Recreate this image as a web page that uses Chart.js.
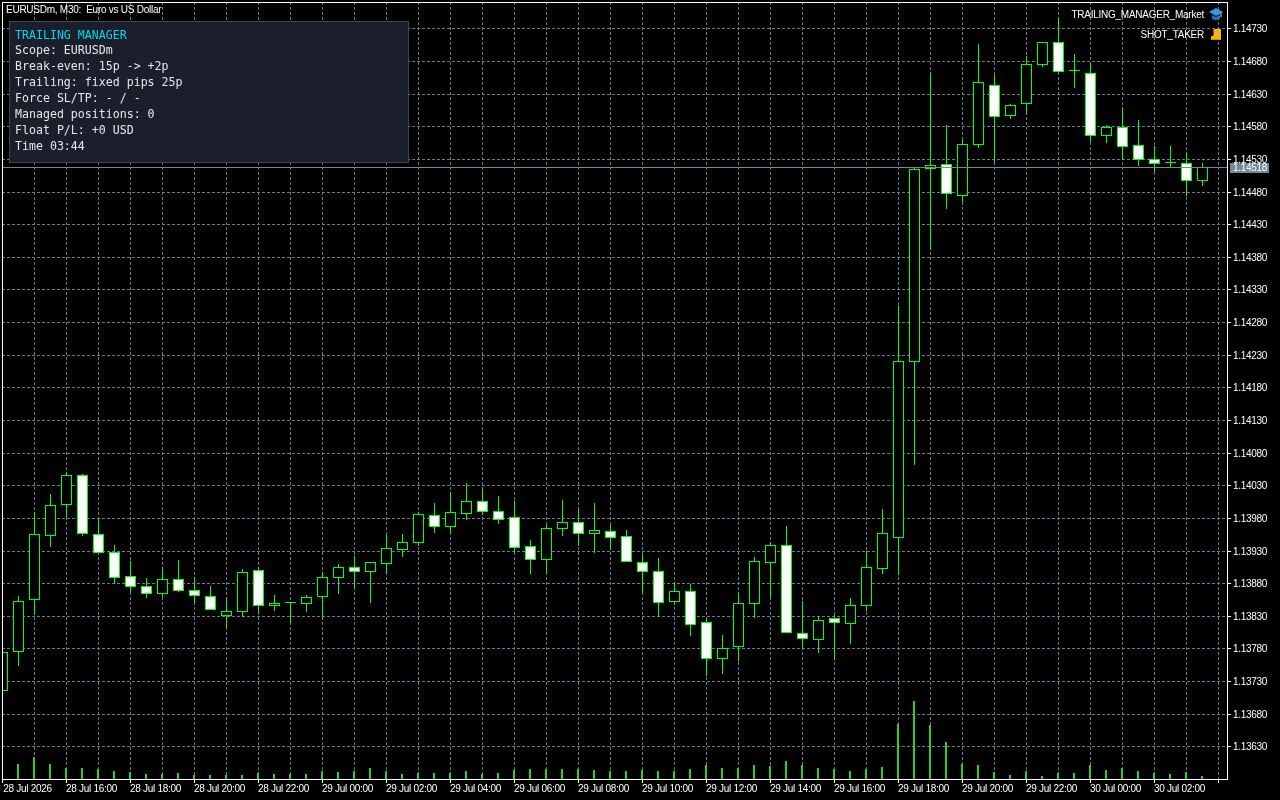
<!DOCTYPE html>
<html>
<head>
<meta charset="utf-8">
<title>EURUSDm, M30</title>
<script src="https://cdn.jsdelivr.net/npm/chart.js@4"></script>
<style>
  html, body { margin: 0; padding: 0; background: #000; width: 1280px; height: 800px; overflow: hidden; }
  #wrap { position: relative; width: 1280px; height: 800px; }
  canvas { display: block; position: absolute; left: 0; top: 0; }
  .lab { position: absolute; color: #fff; font: 10px "Liberation Sans", sans-serif; white-space: pre; line-height: 12px; letter-spacing: -0.25px; }
  #panel { position: absolute; left: 9px; top: 21px; width: 398px; height: 140px; background: #1a1f2b; border: 1px solid #3a4556; }
  #panel div { position: absolute; left: 5px; height: 16px; line-height: 16px; font: 11.6px/16px "DejaVu Sans Mono", monospace; color: #e2e7ee; white-space: pre; }
  svg { position: absolute; }
</style>
</head>
<body>
<div id="wrap">
  <canvas id="c" width="1280" height="800"></canvas>
  <div class="lab" id="title" style="left:6px;top:4px;"></div>
  <div id="panel"></div>
  <div class="lab" id="o1" style="right:76px;top:9px;"></div>
  <div class="lab" id="o2" style="right:76px;top:29px;"></div>
  <svg style="left:1209px;top:8px" width="14" height="13" viewBox="0 0 14 13">
    <path d="M0 4 L7 0 L14 4 L7 8 Z" fill="#2f9be8"/>
    <path d="M3 7 L7 9 L11 7 L11 11 Q7 13 3 11 Z" fill="#1c74c4"/>
    <path d="M12 4.5 L12 9" stroke="#bfe3ff" stroke-width="1"/>
  </svg>
  <svg style="left:1211px;top:29px" width="11" height="12" viewBox="0 0 11 12">
    <path d="M2.5 0 L10 0 L10 11 L0 11 L0 7.5 L2.5 6.5 Z" fill="#f6b40e"/>
    <path d="M0.5 10 L9.5 10 L9.5 11 L0.5 11 Z" fill="#c98a00"/>
  </svg>
</div>
<script>
const symbolTitle = "EURUSDm, M30:  Euro vs US Dollar";
const objectLabels = ["TRAILING_MANAGER_Market", "SHOT_TAKER"];
const panelLines = [
  "TRAILING MANAGER",
  "Scope: EURUSDm",
  "Break-even: 15p -> +2p",
  "Trailing: fixed pips 25p",
  "Force SL/TP: - / -",
  "Managed positions: 0",
  "Float P/L: +0 USD",
  "Time 03:44"
];
const bidPrice = 1.14518;

const opens = [1.13715,1.13775,1.13854,1.13952,1.14000,1.14046,1.13955,1.13928,1.13891,1.13876,
1.13863,1.13886,1.13870,1.13860,1.13830,1.13836,1.13900,1.13845,1.13850,1.13848,
1.13859,1.13888,1.13905,1.13897,1.13909,1.13931,1.13942,1.13984,1.13966,1.13986,
1.14006,1.13991,1.13981,1.13937,1.13915,1.13963,1.13974,1.13955,1.13960,1.13952,
1.13912,1.13899,1.13851,1.13868,1.13821,1.13764,1.13782,1.13848,1.13911,1.13938,
1.13804,1.13793,1.13827,1.13817,1.13845,1.13902,1.13949,1.14219,1.14514,1.14522,
1.14473,1.14551,1.14643,1.14596,1.14614,1.14674,1.14709,1.14665,1.14662,1.14565,
1.14579,1.14551,1.14530,1.14524,1.14524,1.14496];
const highs = [1.13775,1.13860,1.13989,1.14017,1.14050,1.14047,1.13978,1.13938,1.13914,1.13888,
1.13905,1.13915,1.13889,1.13876,1.13857,1.13902,1.13905,1.13862,1.13851,1.13862,
1.13897,1.13909,1.13922,1.13912,1.13954,1.13955,1.13989,1.14003,1.14020,1.14033,
1.14026,1.14014,1.14006,1.13946,1.13969,1.14007,1.13994,1.14003,1.13969,1.13961,
1.13925,1.13919,1.13882,1.13879,1.13827,1.13801,1.13866,1.13920,1.13943,1.13968,
1.13853,1.13830,1.13831,1.13857,1.13929,1.13994,1.14305,1.14516,1.14662,1.14582,
1.14559,1.14706,1.14658,1.14614,1.14688,1.14709,1.14746,1.14691,1.14677,1.14582,
1.14608,1.14590,1.14550,1.14550,1.14539,1.14524];
const lows = [1.13715,1.13753,1.13831,1.13935,1.13981,1.13952,1.13926,1.13879,1.13865,1.13857,
1.13857,1.13866,1.13850,1.13839,1.13811,1.13828,1.13834,1.13837,1.13819,1.13836,
1.13825,1.13863,1.13873,1.13850,1.13896,1.13920,1.13937,1.13957,1.13957,1.13977,
1.13984,1.13971,1.13926,1.13894,1.13896,1.13952,1.13937,1.13926,1.13931,1.13912,
1.13865,1.13828,1.13847,1.13799,1.13738,1.13741,1.13761,1.13827,1.13857,1.13804,
1.13779,1.13773,1.13762,1.13787,1.13837,1.13894,1.13893,1.14061,1.14390,1.14453,
1.14464,1.14547,1.14524,1.14591,1.14599,1.14671,1.14663,1.14639,1.14556,1.14554,
1.14528,1.14519,1.14510,1.14518,1.14473,1.14488];
const closes = [1.13775,1.13853,1.13955,1.14000,1.14046,1.13955,1.13926,1.13888,1.13874,1.13863,
1.13886,1.13868,1.13860,1.13839,1.13837,1.13897,1.13845,1.13850,1.13850,1.13859,
1.13889,1.13905,1.13897,1.13912,1.13934,1.13943,1.13986,1.13966,1.13989,1.14006,
1.13989,1.13977,1.13934,1.13915,1.13965,1.13974,1.13955,1.13961,1.13949,1.13912,
1.13897,1.13850,1.13868,1.13816,1.13764,1.13781,1.13850,1.13914,1.13938,1.13804,
1.13794,1.13824,1.13819,1.13847,1.13905,1.13957,1.14220,1.14514,1.14521,1.14476,
1.14553,1.14648,1.14594,1.14612,1.14675,1.14709,1.14663,1.14665,1.14565,1.14579,
1.14548,1.14528,1.14522,1.14524,1.14496,1.14518];
const tickVolumes = [120,300,440,300,220,220,200,160,140,100,
100,120,80,80,80,80,120,100,100,100,
160,140,160,220,160,100,120,120,120,160,
100,120,180,200,200,200,200,180,160,160,
180,160,160,200,280,220,220,280,260,360,
280,220,200,160,200,240,1100,1560,1080,740,
300,280,140,80,160,60,120,120,280,180,
220,160,120,100,140,60];
const priceTicks = [1.13630,1.13680,1.13730,1.13780,1.13830,1.13880,1.13930,1.13980,1.14030,1.14080,
1.14130,1.14180,1.14230,1.14280,1.14330,1.14380,1.14430,1.14480,1.14530,1.14580,1.14630,1.14680,1.14730];
const timeLabels = ["28 Jul 2026","28 Jul 16:00","28 Jul 18:00","28 Jul 20:00","28 Jul 22:00",
"29 Jul 00:00","29 Jul 02:00","29 Jul 04:00","29 Jul 06:00","29 Jul 08:00","29 Jul 10:00",
"29 Jul 12:00","29 Jul 14:00","29 Jul 16:00","29 Jul 18:00","29 Jul 20:00","29 Jul 22:00",
"30 Jul 00:00","30 Jul 02:00"];

document.getElementById('title').textContent = symbolTitle;
document.getElementById('o1').textContent = objectLabels[0];
document.getElementById('o2').textContent = objectLabels[1];
const panel = document.getElementById('panel');
panelLines.forEach((t, i) => {
  const d = document.createElement('div');
  d.textContent = t;
  d.style.top = (i === 0 ? 5 : 4 + i * 16) + 'px';
  if (i === 0) d.style.color = '#00d8e6';
  panel.appendChild(d);
});

const barIndex = opens.map((_, i) => i);
const barsPerLabel = 4, barsPerGrid = 2;
const axisFont = { family: '"Liberation Sans", sans-serif', size: 10 };
const xMin = -1 / 32, xMax = 1225 / 16 - 1 / 32;

const frame = {
  id: 'frame',
  beforeDraw(chart) { chart.ctx.letterSpacing = '-0.3px'; },
  afterDatasetsDraw(chart) {
    const { ctx, chartArea: a, scales } = chart;
    const by = scales.y.getPixelForValue(bidPrice) + 0.5;
    ctx.save();
    ctx.strokeStyle = '#778899';
    ctx.lineWidth = 1;
    ctx.beginPath();
    ctx.moveTo(a.left, by);
    ctx.lineTo(a.right, by);
    ctx.stroke();
    ctx.strokeStyle = '#ffffff';
    ctx.strokeRect(a.left + 0.5, a.top + 0.5, a.right - a.left, a.bottom - a.top);
    ctx.restore();
  },
  afterDraw(chart) {
    const { ctx, chartArea: a, scales } = chart;
    const by = scales.y.getPixelForValue(bidPrice);
    ctx.save();
    ctx.fillStyle = '#778899';
    ctx.fillRect(a.right + 3, by - 4, 39, 10);
    ctx.fillStyle = '#ffffff';
    ctx.font = '10px "Liberation Sans", sans-serif';
    ctx.textBaseline = 'middle';
    ctx.textAlign = 'left';
    ctx.fillText(bidPrice.toFixed(5), a.right + 6, by + 1);
    ctx.restore();
  }
};

new Chart(document.getElementById('c'), {
  type: 'bar',
  plugins: [frame],
  data: {
    datasets: [
      {
        label: 'Body', order: 1, xAxisID: 'x', yAxisID: 'y',
        data: barIndex.map(i => ({ x: i, y: [opens[i], closes[i]] })),
        backgroundColor: barIndex.map(i => opens[i] > closes[i] ? '#ffffff' : '#000000'),
        borderColor: '#00ff00', borderWidth: 1, borderSkipped: false, inflateAmount: 0,
        barThickness: 11, minBarLength: 1, grouped: false
      },
      {
        label: 'Wick', order: 2, xAxisID: 'x', yAxisID: 'y',
        data: barIndex.map(i => ({ x: i, y: [lows[i], highs[i]] })),
        backgroundColor: '#00ff00', borderWidth: 0, inflateAmount: 0,
        barThickness: 1, grouped: false
      },
      {
        label: 'Volume', order: 3, xAxisID: 'xV', yAxisID: 'yV',
        data: barIndex.map(i => ({ x: i, y: tickVolumes[i] })),
        backgroundColor: '#32cd32', borderWidth: 0, inflateAmount: 0,
        barThickness: 2, grouped: false
      }
    ]
  },
  options: {
    responsive: false, animation: false, devicePixelRatio: 1,
    layout: { padding: { left: 2, top: 2, right: 0, bottom: 0 } },
    plugins: { legend: { display: false }, tooltip: { enabled: false } },
    scales: {
      x: {
        type: 'linear', position: 'bottom', min: xMin, max: xMax, offset: false,
        border: { display: false, dash: [3, 2] },
        grid: {
          offset: false, color: '#667a90', lineWidth: 1, tickLength: 4, tickWidth: 1,
          tickBorderDash: [],
          tickColor: c => (c.tick && c.tick.value % barsPerLabel === 0) ? '#ffffff' : 'transparent'
        },
        afterBuildTicks: s => {
          const t = [];
          for (let v = 0; v <= xMax; v += barsPerGrid) t.push({ value: v });
          s.ticks = t;
        },
        afterFit: s => { s.height = 21; s.paddingLeft = 0; s.paddingRight = 0; },
        ticks: {
          autoSkip: false, maxRotation: 0, minRotation: 0, padding: 0, labelOffset: 25,
          color: '#ffffff', font: axisFont,
          callback: v => v % barsPerLabel === 0 ? (timeLabels[v / barsPerLabel] || '') : ''
        }
      },
      xV: { type: 'linear', display: false, min: xMin + 1 / 32, max: xMax + 1 / 32, offset: false, grid: { offset: false } },
      y: {
        type: 'linear', position: 'right', min: 1.13580, max: 1.147703,
        border: { display: false, dash: [3, 2] },
        grid: {
          color: '#667a90', lineWidth: 1, tickLength: 4, tickWidth: 1,
          tickBorderDash: [], tickColor: '#ffffff'
        },
        afterBuildTicks: s => {
          s.ticks = priceTicks.map(v => ({ value: v }));
          if (!s._snapped) {
            const base = s.getPixelForValue;
            s.getPixelForValue = function (v, i) { return Math.round(base.call(this, v, i)); };
            s._snapped = true;
          }
        },
        afterFit: s => { s.width = 53; s.paddingTop = 0; s.paddingBottom = 0; },
        ticks: {
          autoSkip: false, padding: 2, labelOffset: 1, color: '#ffffff', font: axisFont,
          callback: v => Number(v).toFixed(5)
        }
      },
      yV: { type: 'linear', display: false, position: 'left', min: 0, max: 15540 }
    }
  }
});
</script>
</body>
</html>
